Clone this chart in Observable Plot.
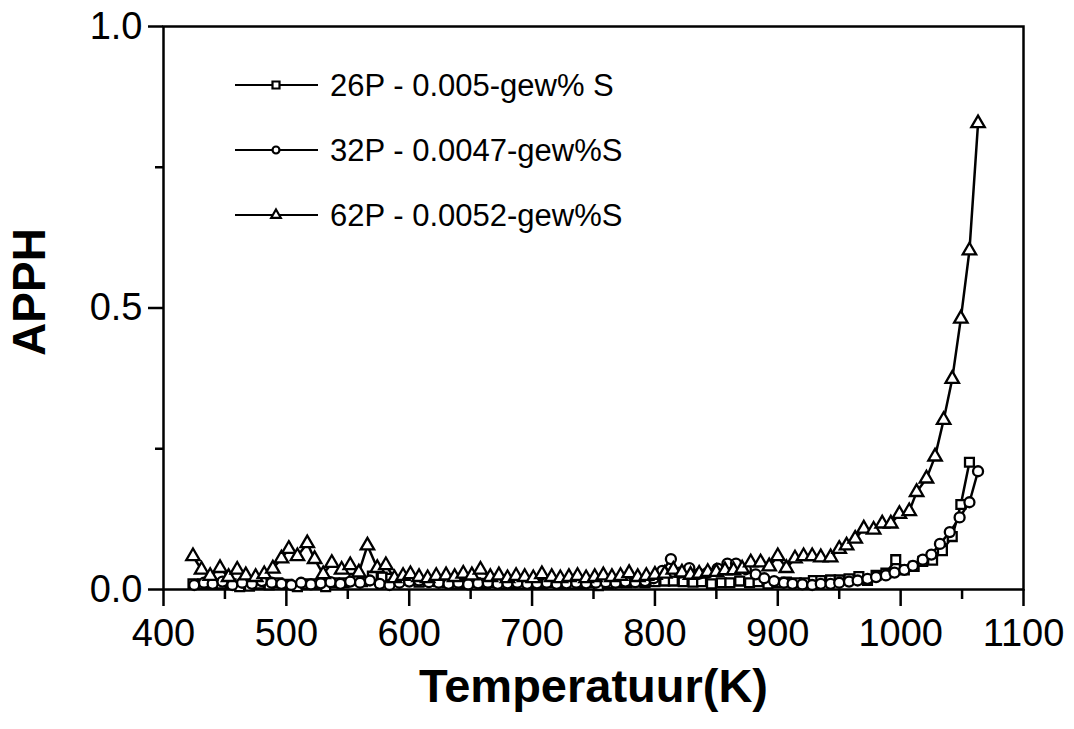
<!DOCTYPE html>
<html><head><meta charset="utf-8">
<script src="https://cdn.jsdelivr.net/npm/d3@7"></script>
<script src="https://cdn.jsdelivr.net/npm/@observablehq/plot@0.6"></script>
<style>
body{margin:0;background:#fff;}
#wrap{position:relative;width:1074px;height:729px;}
#legend{position:absolute;left:0;top:0;}
</style></head><body><div id="wrap"></div>
<script>
const seriesNames = ["26P - 0.005-gew% S", "32P - 0.0047-gew%S", "62P - 0.0052-gew%S"];
const seriesSymbols = ["square", "circle", "triangle"];

const temp26 = [424,432,439,447,455,462,470,478,486,493,501,509,516,524,532,539,547,555,562,570,578,585,593,601,608,616,624,631,639,647,654,662,670,677,685,693,700,708,716,723,731,739,746,754,762,769,777,785,792,800,808,815,823,831,838,846,854,861,869,877,884,892,900,907,915,922,929,935,943,950,958,966,973,980,988,996,1003,1011,1018,1026,1034,1042,1049,1056];
const apph26 = [0.010,0.010,0.011,0.010,0.010,0.005,0.006,0.010,0.008,0.012,0.009,0.005,0.010,0.010,0.005,0.012,0.012,0.020,0.014,0.024,0.022,0.020,0.016,0.016,0.013,0.015,0.014,0.012,0.010,0.011,0.012,0.011,0.012,0.010,0.011,0.010,0.011,0.011,0.012,0.011,0.010,0.011,0.012,0.007,0.011,0.012,0.012,0.013,0.012,0.014,0.015,0.015,0.014,0.013,0.014,0.010,0.012,0.012,0.015,0.012,0.014,0.010,0.012,0.013,0.012,0.012,0.016,0.016,0.017,0.017,0.019,0.023,0.016,0.025,0.029,0.053,0.035,0.041,0.050,0.052,0.069,0.094,0.151,0.226];

const temp32 = [425,433,440,448,456,464,472,480,488,496,504,512,520,528,536,544,552,560,568,576,584,592,600,608,616,624,632,640,648,656,664,672,680,688,696,704,712,720,728,736,744,752,760,768,776,784,792,799,806,813,820,828,836,843,851,859,866,874,882,889,897,905,912,920,928,935,943,950,958,965,973,980,988,995,1003,1010,1018,1025,1032,1040,1048,1056,1063];
const apph32 = [0.008,0.012,0.010,0.014,0.008,0.012,0.010,0.015,0.012,0.010,0.008,0.012,0.009,0.011,0.013,0.010,0.014,0.012,0.016,0.010,0.008,0.012,0.014,0.016,0.013,0.012,0.010,0.012,0.009,0.011,0.012,0.010,0.011,0.012,0.010,0.011,0.012,0.010,0.011,0.012,0.011,0.012,0.013,0.012,0.014,0.013,0.015,0.020,0.033,0.054,0.030,0.038,0.028,0.030,0.037,0.046,0.046,0.036,0.027,0.020,0.015,0.012,0.010,0.009,0.008,0.010,0.010,0.012,0.014,0.016,0.019,0.022,0.025,0.030,0.035,0.042,0.053,0.062,0.081,0.102,0.128,0.155,0.210];

const temp62 = [424,431,438,446,453,460,467,475,482,489,496,502,509,517,523,530,537,545,552,559,566,574,581,588,595,601,608,615,622,630,637,644,651,658,666,673,680,687,694,701,708,716,723,730,737,744,751,758,765,772,779,786,793,800,808,815,822,829,836,843,850,857,864,871,878,886,893,900,907,914,921,928,935,943,950,956,963,970,978,985,992,999,1007,1013,1021,1028,1035,1042,1049,1056,1063];
const apph62 = [0.059,0.035,0.024,0.038,0.022,0.035,0.025,0.022,0.027,0.037,0.055,0.072,0.059,0.082,0.054,0.027,0.047,0.035,0.043,0.030,0.078,0.038,0.043,0.020,0.024,0.027,0.022,0.020,0.024,0.025,0.022,0.028,0.025,0.035,0.022,0.025,0.020,0.024,0.022,0.020,0.027,0.022,0.020,0.022,0.024,0.020,0.022,0.025,0.022,0.024,0.029,0.022,0.024,0.026,0.028,0.035,0.030,0.026,0.028,0.031,0.031,0.034,0.034,0.037,0.048,0.048,0.041,0.059,0.038,0.055,0.059,0.059,0.057,0.057,0.072,0.078,0.090,0.108,0.106,0.117,0.117,0.134,0.139,0.173,0.197,0.236,0.301,0.374,0.481,0.602,0.828];

const xTicks = [400,500,600,700,800,900,1000,1100];
const xTickLabels = ["400","500","600","700","800","900","1000","1100"];
const xMinorTicks = [450,550,650,750,850,950,1050];
const yTicks = [0,0.5,1];
const yTickLabels = ["0.0","0.5","1.0"];
const yMinorTicks = [0.25,0.75];
const xTitle = "Temperatuur(K)";
const yTitle = "APPH";

const temps = [temp26, temp32, temp62];
const vals = [apph26, apph32, apph62];
const series = seriesNames.map((name, s) => temps[s].map((t, i) => ({series: name, T: t, v: vals[s][i]})));

const FONT = "'Liberation Sans', Arial, sans-serif";
const marks = [
  Plot.frame({stroke: "black", strokeWidth: 2.5}),
  Plot.axisX(xTicks, {tickSize: 17, tickPadding: 13, fontSize: 38, strokeWidth: 2.5, label: null,
    tickFormat: d => xTickLabels[xTicks.indexOf(d)]}),
  Plot.axisX(xMinorTicks, {tickSize: 10, strokeWidth: 2.5, label: null, tickFormat: () => ""}),
  Plot.axisY(yTicks, {tickSize: 15, tickPadding: 6, fontSize: 38, strokeWidth: 2.5, label: null,
    tickFormat: d => yTickLabels[yTicks.indexOf(d)]}),
  Plot.axisY(yMinorTicks, {tickSize: 8, strokeWidth: 2.5, label: null, tickFormat: () => ""})
];
series.forEach((rows, s) => {
  marks.push(Plot.line(rows, {x: "T", y: "v", stroke: "black", strokeWidth: 2.5}));
});
series.forEach((rows, s) => {
  marks.push(Plot.dot(rows, {x: "T", y: "v", symbol: seriesSymbols[s], r: 5, fill: "white", stroke: "black", strokeWidth: 2.3}));
});
marks.push(Plot.text([xTitle], {text: d => d, frameAnchor: "bottom", dy: 112, fontSize: 47, fontWeight: "bold", fill: "black"}));
marks.push(Plot.text([yTitle], {text: d => d, frameAnchor: "left", textAnchor: "middle", rotate: -90, dx: -133, dy: -16, fontSize: 46, fontWeight: "bold", fill: "black"}));

const chart = Plot.plot({
  width: 1074, height: 729,
  marginLeft: 163, marginRight: 51, marginTop: 26, marginBottom: 140,
  x: {domain: [400, 1100]},
  y: {domain: [0, 1]},
  style: {fontFamily: FONT, background: "white", color: "black", overflow: "visible"},
  marks
});
const wrap = document.getElementById("wrap");
wrap.appendChild(chart);

// legend overlay
const leg = d3.select(wrap).append("svg").attr("id", "legend").attr("width", 1074).attr("height", 729)
  .style("font-family", FONT);
const rowY = [85, 150, 215];
const symMap = {square: [d3.symbolSquare, 49], circle: [d3.symbolCircle, 38], triangle: [d3.symbolTriangle, 40]};
seriesNames.forEach((name, i) => {
  const g = leg.append("g").attr("transform", `translate(0,${rowY[i]})`);
  g.append("line").attr("x1", 235).attr("x2", 318).attr("y1", 0).attr("y2", 0).attr("stroke", "black").attr("stroke-width", 2.2);
  const [sym, size] = symMap[seriesSymbols[i]];
  g.append("path").attr("transform", "translate(276,0)").attr("d", d3.symbol(sym, size)())
    .attr("fill", "white").attr("stroke", "black").attr("stroke-width", 2.2);
  g.append("text").attr("x", 330).attr("y", 0).attr("dy", "0.35em").attr("font-size", 31).text(name);
});
</script></body></html>
